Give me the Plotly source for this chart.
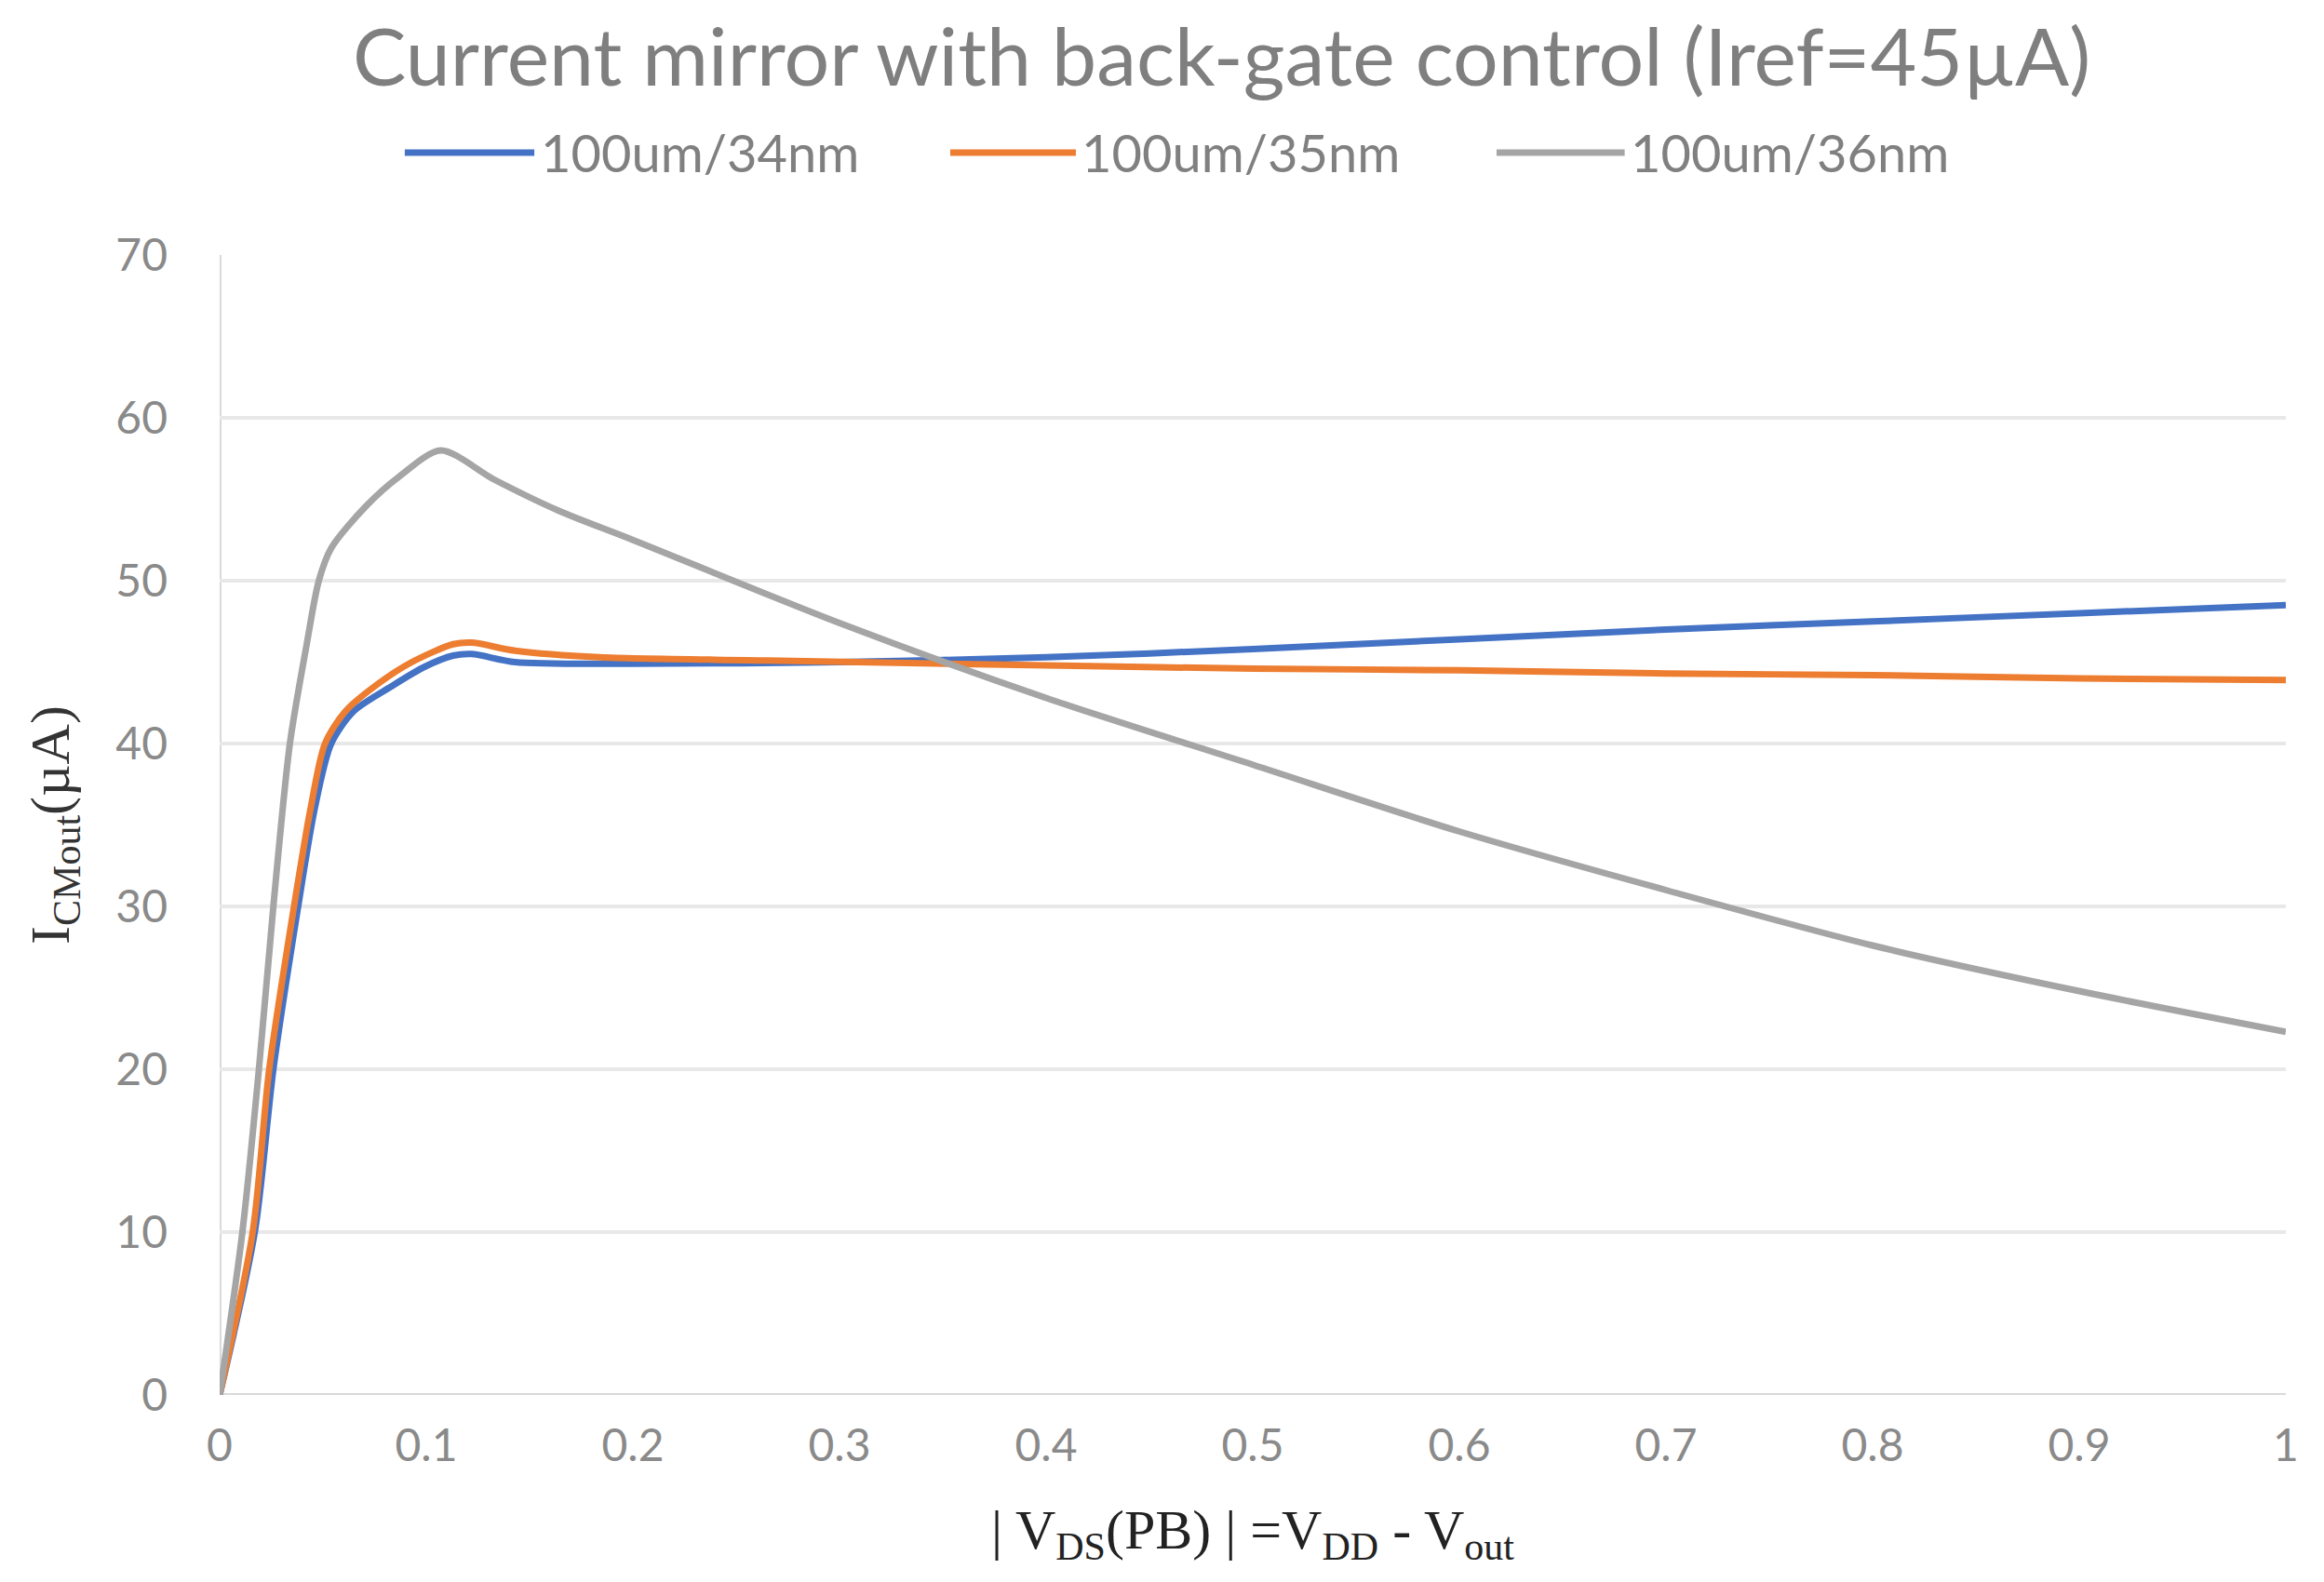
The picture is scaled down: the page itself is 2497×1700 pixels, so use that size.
import plotly.graph_objects as go

# ---- data ----
series_names = ["100um/34nm", "100um/35nm", "100um/36nm"]
series_colors = ["#4472C4", "#ED7D31", "#A5A5A5"]

x_34 = [0, 0.017, 0.026, 0.038, 0.046, 0.054, 0.065, 0.083, 0.099, 0.113, 0.122, 0.143,
        0.2, 0.3, 0.4, 0.5, 0.6, 0.7, 0.8, 0.9, 1.0]
y_34 = [0, 10, 20, 30, 36, 40, 42, 43.5, 44.7, 45.4, 45.5, 45.0,
        44.9, 45.0, 45.3, 45.8, 46.4, 47.0, 47.5, 48.0, 48.5]

x_35 = [0, 0.016, 0.024, 0.036, 0.044, 0.051, 0.061, 0.077, 0.093, 0.113, 0.122, 0.143,
        0.184, 0.265, 0.4, 0.5, 0.6, 0.7, 0.8, 0.9, 1.0]
y_35 = [0, 10, 20, 30, 36, 40, 42, 43.7, 45.0, 46.1, 46.2, 45.7,
        45.3, 45.1, 44.8, 44.6, 44.5, 44.3, 44.2, 44.0, 43.9]

x_36 = [0, 0.011, 0.019, 0.026, 0.034, 0.042, 0.048, 0.054, 0.071, 0.087, 0.107, 0.133,
        0.164, 0.2, 0.3, 0.4, 0.5, 0.6, 0.7, 0.8, 0.9, 1.0]
y_36 = [0, 10, 20, 30, 40, 46, 50, 52, 54.6, 56.4, 58.0, 56.2,
        54.3, 52.5, 47.4, 42.8, 38.7, 34.6, 31.0, 27.6, 24.8, 22.3]

x_ticks = [0, 0.1, 0.2, 0.3, 0.4, 0.5, 0.6, 0.7, 0.8, 0.9, 1]
x_tick_labels = ["0", "0.1", "0.2", "0.3", "0.4", "0.5", "0.6", "0.7", "0.8", "0.9", "1"]
y_ticks = [0, 10, 20, 30, 40, 50, 60, 70]

title_text = "Current mirror with back-gate control (Iref=45µA)"
x_title = "| V<sub>DS</sub>(PB) | =V<sub>DD</sub> - V<sub>out</sub>"
y_title = "I<sub>CMout</sub>(µA)"

xs = [x_34, x_35, x_36]
ys = [y_34, y_35, y_36]

fig = go.Figure()
for name, color, xv, yv in zip(series_names, series_colors, xs, ys):
    fig.add_trace(go.Scatter(
        x=xv, y=yv, name=name, mode="lines",
        line=dict(color=color, width=7, shape="spline", smoothing=0.8),
        showlegend=False,
    ))

# custom legend (long line samples like the reference)
legend_line_x = [(0.0896, 0.1523), (0.3536, 0.4144), (0.6180, 0.6800)]
legend_y = 1.0898
for (x0, x1), name, color in zip(legend_line_x, series_names, series_colors):
    fig.add_shape(type="line", xref="paper", yref="paper", x0=x0, x1=x1,
                  y0=legend_y, y1=legend_y, line=dict(color=color, width=7))
    fig.add_annotation(xref="paper", yref="paper", x=x1 + 0.002, y=legend_y,
                       xanchor="left", yanchor="middle", showarrow=False,
                       text=name, font=dict(family="Lato", size=56, color="#808080"))

tick_font = dict(family="Lato", size=48, color="#8a8a8a")

fig.update_layout(
    width=2481, height=1684,
    margin=dict(l=228, r=33, t=266, b=193),
    paper_bgcolor="white", plot_bgcolor="white",
    title=dict(text=title_text, xref="paper", x=0.485, xanchor="center",
               y=0.968, yanchor="middle",
               font=dict(family="Lato", size=86, color="#7f7f7f")),
    xaxis=dict(range=[0, 1], tickvals=x_ticks, ticktext=x_tick_labels,
               showgrid=False, zeroline=False, showline=False, automargin=False,
               ticks="", tickfont=tick_font, ticklabelstandoff=22,
               title=dict(text=x_title, standoff=42,
                          font=dict(family="Liberation Serif", size=60, color="#222222"))),
    yaxis=dict(range=[0, 70], tickvals=y_ticks, showgrid=True, gridcolor="#e8e8e8",
               gridwidth=4, zeroline=False, showline=False, ticks="", automargin=False,
               tickfont=tick_font, ticklabelstandoff=55,
               title=dict(text=y_title, standoff=30,
                          font=dict(family="Liberation Serif", size=60, color="#333333"))),
)

# vertical axis line at x=0 and baseline at y=0
fig.add_shape(type="line", xref="x", yref="paper", x0=0, x1=0, y0=0, y1=1,
              line=dict(color="#d9d9d9", width=4), layer="below")
fig.add_shape(type="line", xref="paper", yref="y", x0=0, x1=1, y0=0, y1=0,
              line=dict(color="#d9d9d9", width=4), layer="below")

fig.write_html("out.html")
